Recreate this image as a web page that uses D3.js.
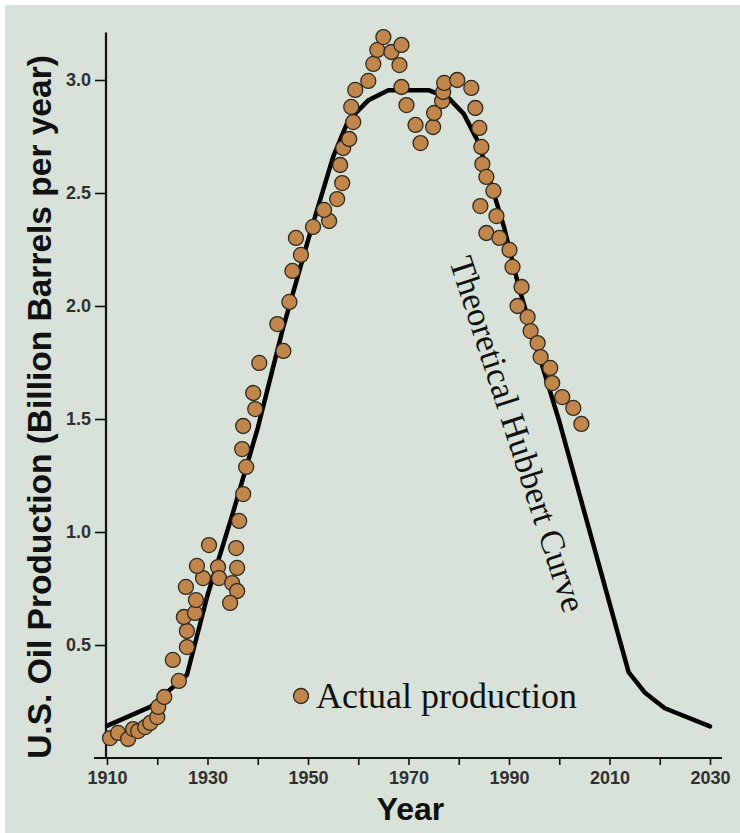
<!DOCTYPE html>
<html>
<head>
<meta charset="utf-8">
<script src="https://cdn.jsdelivr.net/npm/d3@7"></script>
<style>
  html, body { margin: 0; padding: 0; background: #ffffff; }
  svg { display: block; }
</style>
</head>
<body>
<svg id="chart" width="740" height="833"></svg>
<script>
// Actual annual production (year, billion barrels)
const dotYears = [
  1910.6, 1912.2, 1914.2, 1915.2, 1916.2, 1917.6, 1918.6, 1920.0, 1920.2, 1921.4,
  1924.3, 1923.1, 1925.9, 1925.9, 1925.3, 1927.5, 1927.7, 1925.7, 1929.1, 1927.9,
  1930.3, 1932.1, 1932.3, 1934.9, 1935.9, 1934.5, 1935.9, 1935.7, 1936.3, 1937.1,
  1937.7, 1936.9, 1937.1, 1939.5, 1939.1, 1940.3, 1945.1, 1943.9, 1946.3, 1946.9,
  1948.6, 1947.6, 1951.0, 1954.2, 1953.2, 1955.8, 1956.8, 1956.4, 1957.0, 1958.2,
  1959.0, 1958.6, 1959.4, 1962.0, 1963.0, 1963.8, 1965.0, 1966.6, 1968.6, 1968.2,
  1968.6, 1969.6, 1971.4, 1972.4, 1974.9, 1975.1, 1976.7, 1976.9, 1977.1, 1979.7,
  1982.5, 1983.3, 1984.1, 1984.5, 1984.7, 1985.5, 1986.9, 1984.3, 1987.5, 1985.5,
  1988.1, 1990.1, 1990.7, 1992.5, 1991.7, 1993.7, 1994.3, 1995.7, 1996.3, 1998.2,
  1998.6, 2000.6, 2002.8, 2004.4
];
const dotValues = [
  0.088, 0.111, 0.084, 0.128, 0.119, 0.137, 0.155, 0.181, 0.226, 0.270,
  0.341, 0.434, 0.491, 0.562, 0.624, 0.642, 0.699, 0.757, 0.796, 0.850,
  0.942, 0.845, 0.796, 0.774, 0.739, 0.686, 0.841, 0.929, 1.049, 1.168,
  1.288, 1.367, 1.469, 1.544, 1.615, 1.748, 1.801, 1.920, 2.018, 2.155,
  2.226, 2.301, 2.350, 2.376, 2.425, 2.473, 2.544, 2.624, 2.699, 2.739,
  2.814, 2.881, 2.956, 2.996, 3.071, 3.133, 3.190, 3.124, 3.155, 3.066,
  2.969, 2.889, 2.801, 2.721, 2.792, 2.854, 2.907, 2.947, 2.987, 3.000,
  2.965, 2.876, 2.788, 2.704, 2.628, 2.571, 2.509, 2.442, 2.398, 2.323,
  2.301, 2.248, 2.173, 2.084, 2.000, 1.951, 1.889, 1.836, 1.774, 1.726,
  1.659, 1.597, 1.549, 1.478
];

// Theoretical Hubbert curve
const curveYears  = [1910, 1918.6, 1925.9, 1930, 1935, 1940, 1945, 1950, 1955, 1958,
                     1962, 1966, 1974, 1978, 1981, 1984, 1986, 1989, 1992, 1996,
                     2000, 2013.8, 2017, 2021, 2030];
const curveValues = [0.142, 0.226, 0.367, 0.72, 1.08, 1.46, 1.90, 2.29, 2.66, 2.82,
                     2.91, 2.955, 2.955, 2.92, 2.85, 2.72, 2.57, 2.35, 2.08, 1.78,
                     1.49, 0.38, 0.29, 0.22, 0.14];

const xTickYears  = [1910, 1920, 1930, 1940, 1950, 1960, 1970, 1980, 1990, 2000, 2010, 2020, 2030];
const xLabelYears = [1910, 1930, 1950, 1970, 1990, 2010, 2030];
const yTickValues = [0.5, 1.0, 1.5, 2.0, 2.5, 3.0];

const yTitle = "U.S. Oil Production (Billion Barrels per year)";
const xTitle = "Year";
const legendLabel = "Actual production";
const curveLabel = "Theoretical Hubbert Curve";

const svg = d3.select("#chart");

// panel background
svg.append("rect")
  .attr("x", 5).attr("y", 5)
  .attr("width", 735).attr("height", 828)
  .attr("fill", "#d8e2d8");

const x = d3.scaleLinear().domain([1910, 2030]).range([107, 710]);
const y = d3.scaleLinear().domain([0, 3]).range([758, 80]);

const sans = "'Liberation Sans', Arial, sans-serif";
const serif = "'Liberation Serif', 'Times New Roman', serif";

// x axis
const xAxis = d3.axisBottom(x)
  .tickValues(xTickYears)
  .tickSize(7)
  .tickFormat(d => xLabelYears.includes(d) ? String(d) : "");
const gx = svg.append("g").attr("transform", `translate(0,${y(0)})`).call(xAxis);
gx.select(".domain").remove();
gx.selectAll(".tick line").attr("stroke", "#111").attr("stroke-width", 1.6);
gx.selectAll(".tick text")
  .attr("y", 13).attr("dy", "0.71em")
  .attr("font-family", sans).attr("font-size", 18).attr("font-weight", "bold")
  .attr("fill", "#303030");
svg.append("line")
  .attr("x1", x.range()[0] - 13).attr("x2", x.range()[1] + 12)
  .attr("y1", y(0)).attr("y2", y(0))
  .attr("stroke", "#111").attr("stroke-width", 2.2);

// y axis
const yAxis = d3.axisLeft(y)
  .tickValues(yTickValues)
  .tickSize(11)
  .tickFormat(d3.format(".1f"));
const gy = svg.append("g").attr("transform", `translate(${x(1910) - 1},0)`).call(yAxis);
gy.select(".domain").remove();
gy.selectAll(".tick line").attr("stroke", "#111").attr("stroke-width", 1.6);
gy.selectAll(".tick text")
  .attr("x", -15)
  .attr("font-family", sans).attr("font-size", 18).attr("font-weight", "bold")
  .attr("fill", "#303030");
svg.append("line")
  .attr("x1", x(1910) - 1).attr("x2", x(1910) - 1)
  .attr("y1", y(0)).attr("y2", y(3.21))
  .attr("stroke", "#111").attr("stroke-width", 2.2);

// axis titles
svg.append("text")
  .attr("transform", `translate(51,407) rotate(-90)`)
  .attr("text-anchor", "middle")
  .attr("font-family", sans).attr("font-size", 33.5).attr("font-weight", "bold")
  .attr("fill", "#111")
  .text(yTitle);

svg.append("text")
  .attr("x", (x.range()[0] + x.range()[1]) / 2 + 2)
  .attr("y", 820)
  .attr("text-anchor", "middle")
  .attr("font-family", sans).attr("font-size", 32).attr("font-weight", "bold")
  .attr("fill", "#111")
  .text(xTitle);

// Hubbert curve
const line = d3.line()
  .x((d, i) => x(curveYears[i]))
  .y((d, i) => y(curveValues[i]))
  .curve(d3.curveLinear);
svg.append("path")
  .attr("d", line(curveYears))
  .attr("fill", "none")
  .attr("stroke", "#000")
  .attr("stroke-width", 4.5)
  .attr("stroke-linejoin", "round")
  .attr("stroke-linecap", "round");

// production dots
svg.append("g").selectAll("circle")
  .data(dotYears)
  .join("circle")
  .attr("cx", (d, i) => x(dotYears[i]))
  .attr("cy", (d, i) => y(dotValues[i]))
  .attr("r", 7.5)
  .attr("fill", "#c1864b")
  .attr("stroke", "#2f2a22")
  .attr("stroke-width", 1.3);

// legend
svg.append("circle")
  .attr("cx", 301).attr("cy", 696).attr("r", 7.5)
  .attr("fill", "#c1864b").attr("stroke", "#2f2a22").attr("stroke-width", 1.3);
svg.append("text")
  .attr("x", 316).attr("y", 708)
  .attr("font-family", serif).attr("font-size", 36)
  .attr("fill", "#111")
  .text(legendLabel);

// curve label
svg.append("text")
  .attr("transform", "translate(518,434) rotate(72)")
  .attr("text-anchor", "middle")
  .attr("dy", "0.35em")
  .attr("font-family", serif).attr("font-size", 34.5)
  .attr("fill", "#111")
  .text(curveLabel);
</script>
</body>
</html>
